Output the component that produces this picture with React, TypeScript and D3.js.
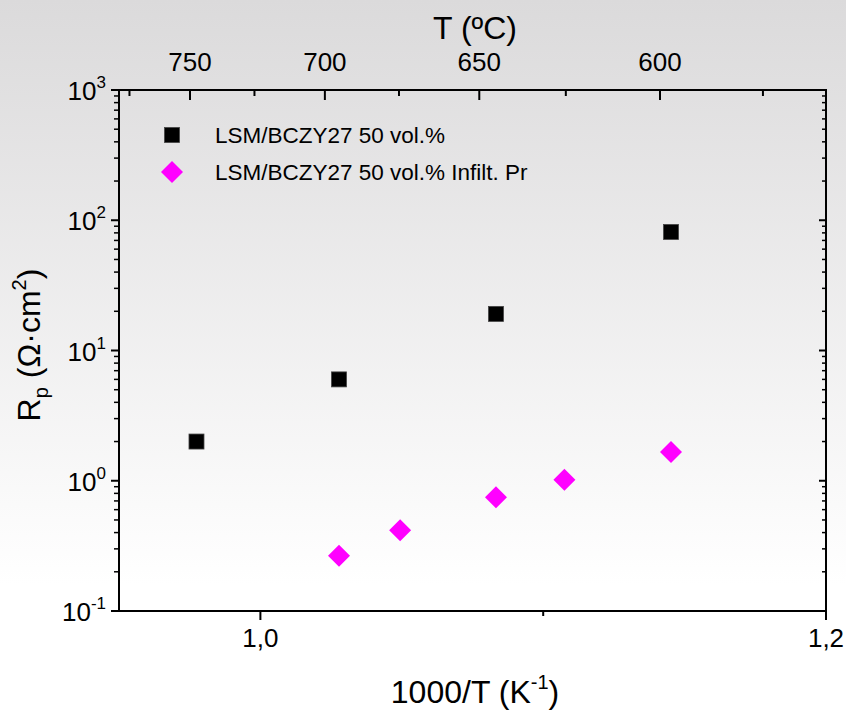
import React from 'react';
import * as d3 from 'd3';

const seriesNames = ['LSM/BCZY27 50 vol.%', 'LSM/BCZY27 50 vol.% Infilt. Pr'];
const invT1 = [0.9774, 1.0278, 1.0833, 1.1452];
const rp1 = [2.0, 6.0, 19.1, 81.3];
const invT2 = [1.0278, 1.0494, 1.0833, 1.1075, 1.1452];
const rp2 = [0.266, 0.417, 0.746, 1.02, 1.66];

const xMajorTicks = [1.0, 1.2];
const xMajorLabels = ['1,0', '1,2'];
const xMinorTicks = [1.1];
const yDecades = [-1, 0, 1, 2, 3];

const topLabels = ['750', '700', '650', '600'];
const topMajorPos = [0.9751, 1.0228, 1.0774, 1.1413];
const topMinorPos = [0.9537, 0.9979, 1.049, 1.108, 1.1777];

const W = 846;
const H = 713;
const L = 119;
const R = 826;
const T = 90;
const B = 611;

const FONT = 'Liberation Sans, Arial, sans-serif';

export default function App() {
  const x = d3.scaleLinear().domain([0.95, 1.2]).range([L, R]);
  const y = d3.scaleLog().domain([0.1, 1000]).range([B, T]);

  const minorY: number[] = [];
  for (let e = -1; e < 3; e++) {
    for (let m = 2; m <= 9; m++) minorY.push(m * Math.pow(10, e));
  }

  const sq = 15;
  const dm = 11;
  const diamond = (cx: number, cy: number, r: number) =>
    `M${cx},${cy - r}L${cx + r},${cy}L${cx},${cy + r}L${cx - r},${cy}Z`;

  return (
    <svg width={W} height={H} style={{ position: 'absolute', left: 0, top: 0 }} fontFamily={FONT}>
      <defs>
        <linearGradient id="bg" x1="0" y1="0" x2="0" y2="1">
          <stop offset="0" stopColor="#dbdadb" />
          <stop offset="0.82" stopColor="#ffffff" />
          <stop offset="1" stopColor="#ffffff" />
        </linearGradient>
      </defs>
      <rect x={0} y={0} width={W} height={H} fill="url(#bg)" />

      {/* frame */}
      <rect x={L} y={T} width={R - L} height={B - T} fill="none" stroke="#000" strokeWidth={2} />

      {/* bottom axis ticks (outward) */}
      {xMajorTicks.map((v, i) => (
        <g key={'xb' + i}>
          <line x1={x(v)} x2={x(v)} y1={B} y2={B + 9} stroke="#000" strokeWidth={2} />
          <text x={x(v)} y={647} fontSize={26} textAnchor="middle">{xMajorLabels[i]}</text>
        </g>
      ))}
      {xMinorTicks.map((v, i) => (
        <line key={'xm' + i} x1={x(v)} x2={x(v)} y1={B} y2={B + 5} stroke="#000" strokeWidth={2} />
      ))}

      {/* top axis ticks (inward) */}
      {topMajorPos.map((v, i) => (
        <g key={'xt' + i}>
          <line x1={x(v)} x2={x(v)} y1={T} y2={T + 10} stroke="#000" strokeWidth={2} />
          <text x={x(v)} y={71} fontSize={26} textAnchor="middle">{topLabels[i]}</text>
        </g>
      ))}
      {topMinorPos.map((v, i) => (
        <line key={'xtm' + i} x1={x(v)} x2={x(v)} y1={T} y2={T + 6} stroke="#000" strokeWidth={2} />
      ))}

      {/* left / right axis */}
      {yDecades.map((e) => (
        <g key={'yl' + e}>
          <line x1={L - 8} x2={L} y1={y(Math.pow(10, e))} y2={y(Math.pow(10, e))} stroke="#000" strokeWidth={2} />
          <line x1={R - 7} x2={R} y1={y(Math.pow(10, e))} y2={y(Math.pow(10, e))} stroke="#000" strokeWidth={2} />
          <text x={106} y={y(Math.pow(10, e)) + 10} fontSize={26} textAnchor="end">
            10<tspan fontSize={17} dy={-12}>{e}</tspan>
          </text>
        </g>
      ))}
      {minorY.map((v, i) => (
        <g key={'ym' + i}>
          <line x1={L - 5} x2={L} y1={y(v)} y2={y(v)} stroke="#000" strokeWidth={1.5} />
          <line x1={R - 4} x2={R} y1={y(v)} y2={y(v)} stroke="#000" strokeWidth={1.5} />
        </g>
      ))}

      {/* titles */}
      <text x={475} y={39} fontSize={32} textAnchor="middle">T (ºC)</text>
      <text x={475} y={703} fontSize={32} textAnchor="middle">
        1000/T (K<tspan fontSize={20} dy={-14}>-1</tspan><tspan dy={14}>)</tspan>
      </text>
      <text transform={`translate(40,${345}) rotate(-90)`} fontSize={32} textAnchor="middle">
        R<tspan fontSize={20} dy={8}>p</tspan><tspan dy={-8}> (Ω·cm</tspan>
        <tspan fontSize={20} dy={-14}>2</tspan><tspan dy={14}>)</tspan>
      </text>

      {/* data */}
      {invT1.map((v, i) => (
        <rect key={'s' + i} x={x(v) - sq / 2} y={y(rp1[i]) - sq / 2} width={sq} height={sq}
          fill="#000" stroke="#444" strokeWidth={0.8} />
      ))}
      {invT2.map((v, i) => (
        <path key={'d' + i} d={diamond(x(v), y(rp2[i]), dm)} fill="#ff00ff" />
      ))}

      {/* legend */}
      <rect x={172 - sq / 2} y={135 - sq / 2} width={sq} height={sq} fill="#000" stroke="#444" strokeWidth={0.8} />
      <text x={215} y={143} fontSize={22.5}>{seriesNames[0]}</text>
      <path d={diamond(172, 172, dm)} fill="#ff00ff" />
      <text x={215} y={180} fontSize={22.5}>{seriesNames[1]}</text>
    </svg>
  );
}
